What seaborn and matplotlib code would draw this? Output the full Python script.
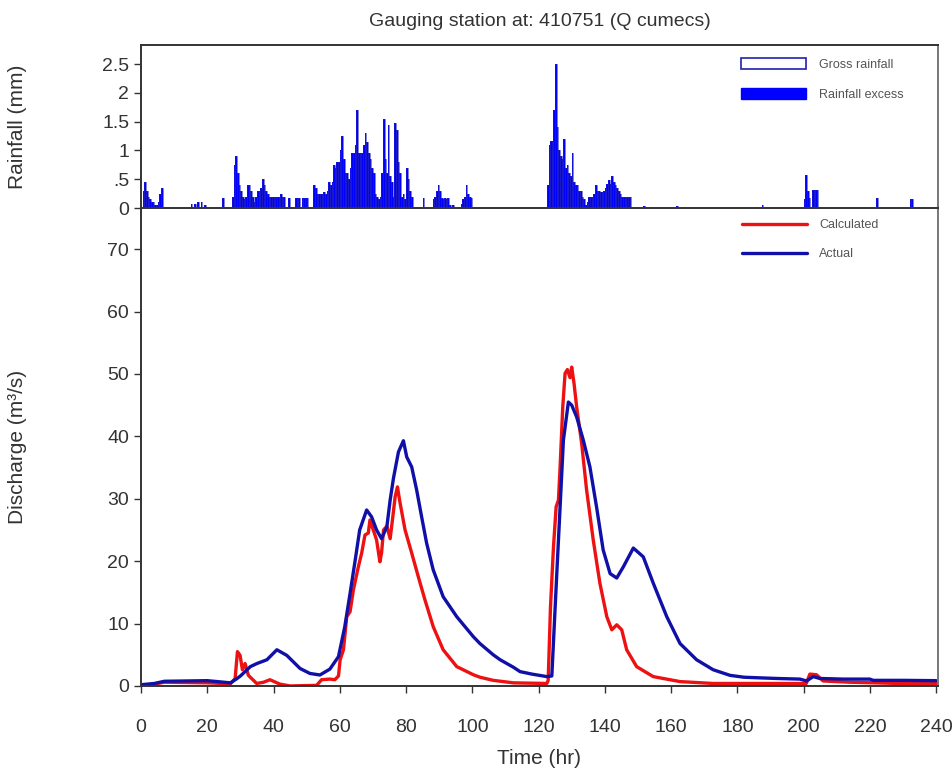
import numpy as np
import pandas as pd
import matplotlib
matplotlib.use("Agg")
import matplotlib.pyplot as plt
from matplotlib.patches import Patch
from matplotlib.lines import Line2D
import seaborn as sns

# --- dati ---
# pioggia (mm) a passo di mezz'ora, solo gli intervalli non nulli
rain_t = [0.5, 1.0, 1.5, 2.0, 2.5, 3.0, 3.5, 4.0, 4.5, 5.0, 5.5, 6.0,
          15.0, 16.0, 17.0, 18.0, 19.0, 24.5,
          27.5, 28.0, 28.5, 29.0, 29.5, 30.0, 30.5, 31.0, 31.5, 32.0, 32.5, 33.0, 33.5, 34.0,
          34.5, 35.0, 35.5, 36.0, 36.5, 37.0, 37.5, 38.0, 38.5, 39.0, 39.5, 40.0, 40.5, 41.0,
          41.5, 42.0, 42.5, 43.0,
          44.5, 46.5, 47.0, 47.5, 48.5, 49.0, 49.5, 50.0,
          52.0, 52.5, 53.0, 53.5, 54.0, 54.5, 55.0, 55.5, 56.0, 56.5, 57.0, 57.5, 58.0, 58.5,
          59.0, 59.5, 60.0, 60.5, 61.0, 61.5, 62.0, 62.5, 63.0, 63.5, 64.0, 64.5, 65.0, 65.5,
          66.0, 66.5, 67.0, 67.5, 68.0, 68.5, 69.0, 69.5, 70.0, 70.5, 71.0, 71.5, 72.0, 72.5,
          73.0, 73.5, 74.0, 74.5, 75.0, 75.5, 76.0, 76.5, 77.0, 77.5, 78.0, 78.5, 79.0, 79.5,
          80.0, 80.5, 81.0, 81.5,
          85.0,
          88.0, 88.5, 89.0, 89.5, 90.0, 90.5, 91.0, 91.5, 92.0, 92.5, 93.0, 94.0,
          96.5, 97.0, 97.5, 98.0, 98.5, 99.0, 99.5,
          122.5, 123.0, 123.5, 124.0, 124.5, 125.0, 125.5, 126.0, 126.5, 127.0, 127.5, 128.0,
          128.5, 129.0, 129.5, 130.0, 130.5, 131.0, 131.5, 132.0, 132.5, 133.0, 133.5, 134.0,
          134.5, 135.0, 135.5, 136.0, 136.5, 137.0, 137.5, 138.0, 138.5, 139.0, 139.5, 140.0,
          140.5, 141.0, 141.5, 142.0, 142.5, 143.0, 143.5, 144.0, 144.5, 145.0, 145.5, 146.0,
          146.5, 147.0, 147.5,
          151.5, 161.5, 187.3,
          200.0, 200.5, 201.0, 201.5, 202.5, 203.0, 203.5, 204.0,
          222.0, 232.0, 232.5]
rain_mm = [0.3, 0.45, 0.3, 0.2, 0.15, 0.1, 0.1, 0.05, 0.05, 0.1, 0.25, 0.35,
           0.07, 0.07, 0.1, 0.1, 0.05, 0.17,
           0.2, 0.75, 0.9, 0.6, 0.4, 0.3, 0.2, 0.15, 0.2, 0.4, 0.4, 0.3, 0.2, 0.1,
           0.2, 0.3, 0.3, 0.35, 0.5, 0.4, 0.3, 0.25, 0.2, 0.2, 0.2, 0.2, 0.2, 0.2,
           0.2, 0.25, 0.2, 0.2,
           0.17, 0.17, 0.17, 0.17, 0.17, 0.17, 0.17, 0.17,
           0.4, 0.35, 0.25, 0.25, 0.25, 0.25, 0.28, 0.25, 0.3, 0.45, 0.4, 0.45, 0.75, 0.7,
           0.8, 0.8, 1.0, 1.25, 0.85, 0.6, 0.6, 0.5, 0.7, 0.95, 0.95, 1.1, 1.7, 0.95,
           0.95, 0.95, 1.1, 1.3, 1.15, 0.95, 0.85, 0.7, 0.6, 0.25, 0.2, 0.15, 0.2, 0.6,
           1.55, 0.85, 0.6, 1.45, 0.55, 0.45, 0.2, 1.47, 1.35, 0.8, 0.6, 0.2, 0.25, 0.15,
           0.7, 0.5, 0.3, 0.2,
           0.17,
           0.15, 0.2, 0.3, 0.4, 0.3, 0.17, 0.15, 0.17, 0.15, 0.17, 0.05, 0.05,
           0.07, 0.15, 0.2, 0.4, 0.25, 0.2, 0.17,
           0.4, 1.1, 1.17, 1.17, 1.7, 2.5, 1.4, 1.0, 0.9, 0.85, 1.2, 0.7,
           0.75, 0.6, 0.55, 0.95, 0.45, 0.4, 0.4, 0.3, 0.3, 0.2, 0.15, 0.05,
           0.1, 0.2, 0.2, 0.2, 0.25, 0.4, 0.3, 0.3, 0.27, 0.28, 0.3, 0.35,
           0.42, 0.48, 0.42, 0.55, 0.45, 0.4, 0.35, 0.3, 0.25, 0.2, 0.2, 0.2,
           0.2, 0.2, 0.2,
           0.04, 0.04, 0.05,
           0.15, 0.58, 0.3, 0.17, 0.32, 0.32, 0.32, 0.32,
           0.17, 0.15, 0.15]

# portata osservata (Actual)
act_t = [0, 4, 7, 20, 27, 29, 30, 33, 35, 38, 41, 44, 48, 51, 54, 57, 59.6, 61.5, 63,
         64.6, 66, 68.1, 69.6, 71.1, 72.6, 74.2, 75.2, 76.2, 77.7, 79.2, 80.2, 81.7, 83.2,
         84.7, 86.2, 88.2, 91.2, 95.3, 100.3, 102.3, 106.3, 108.4, 112.4, 114.4, 118, 122.5,
         124, 125.5, 126.5, 127.5, 129, 130, 131.5, 133.5, 135.5, 137.5, 139.5, 141.6, 143.6,
         145.6, 148.6, 151.6, 154.6, 158.7, 162.7, 167.7, 172.7, 177.8, 182, 186.8, 192,
         198.9, 200.9, 202.9, 204.9, 212, 220, 221, 230, 240]
act_q = [0.2, 0.4, 0.75, 0.85, 0.5, 1.2, 1.6, 3.1, 3.6, 4.2, 5.8, 4.9, 2.8, 2.0, 1.76, 2.7,
         4.7, 9.5, 14.5, 20.0, 25.0, 28.2, 27.1, 25.0, 23.6, 25.5, 29.8, 33.3, 37.5, 39.3,
         36.7, 35.1, 31.4, 27.1, 22.9, 18.6, 14.3, 11.1, 7.9, 6.8, 5.0, 4.2, 3.0, 2.3, 1.9,
         1.5, 1.6, 18.0, 28.7, 39.4, 45.5, 45.0, 43.1, 39.4, 35.1, 28.7, 21.8, 18.0, 17.3,
         19.1, 22.1, 20.7, 16.5, 11.1, 6.8, 4.2, 2.6, 1.7, 1.4, 1.3, 1.2, 1.1, 0.8, 1.5,
         1.2, 1.1, 1.1, 0.9, 0.9, 0.85]

# portata calcolata (Calculated)
calc_t = [0, 4, 7, 20, 27, 28.4, 29.1, 29.9, 30.6, 31.4, 32.4, 34.9, 37, 38.9, 41.9, 45,
          53, 54.5, 57, 58.5, 59.6, 60.1, 61.1, 62.1, 63.1, 64.1, 65.6, 66.6, 67.6, 68.6,
          69.1, 70.1, 71.1, 72.1, 72.6, 73.2, 74.2, 75.2, 76.0, 76.7, 77.4, 78.2, 79.7, 81.7,
          83.7, 85.7, 88.2, 91.2, 95.3, 100.3, 102.3, 106.3, 112.4, 122.5, 122.9, 123.6,
          124.5, 125.3, 126.0, 126.5, 127.3, 128.0, 128.7, 129.5, 130.0, 130.7, 131.5, 133.0,
          134.5, 136.5, 138.5, 140.6, 142.1, 143.6, 145.1, 146.6, 149.6, 154.6, 162.7, 172.7,
          199.9, 200.8, 201.9, 203.9, 205.9, 213.9, 228.9, 240]
calc_q = [0.0, 0.3, 0.6, 0.5, 0.35, 1.2, 5.5, 4.9, 2.6, 3.6, 1.7, 0.4, 0.6, 1.0, 0.3, 0.0,
          0.1, 1.0, 1.1, 1.0, 1.6, 4.2, 5.8, 11.1, 11.9, 15.4, 19.1, 21.3, 24.2, 24.5,
          26.6, 25.0, 23.4, 19.9, 21.3, 25.0, 25.6, 23.6, 27.1, 30.3, 31.9, 29.3, 25.0, 21.3,
          17.5, 13.8, 9.5, 5.8, 3.1, 1.8, 1.4, 0.9, 0.5, 0.4, 0.9, 12.7,
          22.3, 28.7, 29.8, 35.1, 44.7, 50.1, 50.7, 49.4, 51.1, 48.5, 44.7, 38.9,
          31.4, 23.4, 16.5, 11.1, 9.0, 9.8, 9.0, 5.8, 3.1, 1.5, 0.7, 0.4,
          0.4, 0.4, 1.9, 1.8, 0.8, 0.6, 0.4, 0.4]

df_act = pd.DataFrame({"t": act_t, "q": act_q})
df_calc = pd.DataFrame({"t": calc_t, "q": calc_q})

# --- grafico ---
sns.set_theme(style="white")
plt.rcParams['font.family'] = ['Liberation Sans Narrow', 'Liberation Sans', 'DejaVu Sans']

fig = plt.figure(figsize=(9.53, 7.78), dpi=100)
ax_r = fig.add_axes([0.148, 0.7326, 0.836, 0.2095])
ax_q = fig.add_axes([0.148, 0.1183, 0.836, 0.6144], sharex=ax_r)

blu_barre = "#0000ff"
blu_linea = "#1010a8"
rosso = "#ee1111"

# pioggia lorda (contorno) e pioggia in eccesso (piena)
ax_r.bar(rain_t, rain_mm, width=0.5, align='edge', color=blu_barre, edgecolor='none')
ax_r.bar(rain_t, rain_mm, width=0.5, align='edge', fill=False, edgecolor="#2020c0", linewidth=0.4)
ax_r.set_ylim(0, 2.83)
ax_r.set_yticks([0, 0.5, 1, 1.5, 2, 2.5])
ax_r.set_yticklabels(['0', '.5', '1', '1.5', '2', '2.5'])
ax_r.tick_params(axis='x', bottom=False, labelbottom=False)
ax_r.set_ylabel("Rainfall (mm)", fontsize=15, color="#333333")
ax_r.yaxis.set_label_coords(-0.143, 0.5)

leg_r = [Patch(facecolor='white', edgecolor='#2020b0', linewidth=1.2, label='Gross rainfall'),
         Patch(facecolor=blu_barre, edgecolor=blu_barre, label='Rainfall excess')]
ax_r.legend(handles=leg_r, loc='upper right', bbox_to_anchor=(0.971, 0.99), frameon=False,
            fontsize=9, handlelength=5.2, handleheight=1.0, labelspacing=1.35,
            handletextpad=1.0, labelcolor="#555555")

# portata
sns.lineplot(data=df_calc, x="t", y="q", ax=ax_q, color=rosso, linewidth=2.4,
             estimator=None, sort=False)
sns.lineplot(data=df_act, x="t", y="q", ax=ax_q, color=blu_linea, linewidth=2.4,
             estimator=None, sort=False)
ax_q.set_xlim(0, 240.5)
ax_q.set_ylim(0, 76.6)
ax_q.set_xticks(np.arange(0, 241, 20))
ax_q.set_yticks(np.arange(0, 71, 10))
ax_q.set_xlabel("Time (hr)", fontsize=15, color="#333333", labelpad=9)
ax_q.set_ylabel("Discharge (m\u00b3/s)", fontsize=15, color="#333333")
ax_q.yaxis.set_label_coords(-0.143, 0.5)

leg_q = [Line2D([0], [0], color=rosso, linewidth=2.4, label='Calculated'),
         Line2D([0], [0], color=blu_linea, linewidth=2.4, label='Actual')]
ax_q.legend(handles=leg_q, loc='upper right', bbox_to_anchor=(0.94, 1.0), frameon=False,
            fontsize=9, handlelength=5.2, labelspacing=1.35, handletextpad=1.0,
            labelcolor="#555555")

for ax in (ax_r, ax_q):
    for s in ax.spines.values():
        s.set_color("#333333")
        s.set_linewidth(1.4)
    ax.spines['right'].set_color("#777777")
    ax.tick_params(axis='both', direction='out', length=5, width=1.0, color="#333333",
                   labelsize=14, labelcolor="#333333", left=True)
ax_q.tick_params(axis='x', bottom=True, pad=19)
ax_r.spines['bottom'].set_visible(False)
ax_q.spines['top'].set_color("#333333")

fig.text(0.566, 1 - 21 / 778, "Gauging station at: 410751 (Q cumecs)", ha='center', va='center',
         fontsize=14, color="#333333", family=['Liberation Sans', 'DejaVu Sans'])

plt.savefig("out.png", dpi=100)
